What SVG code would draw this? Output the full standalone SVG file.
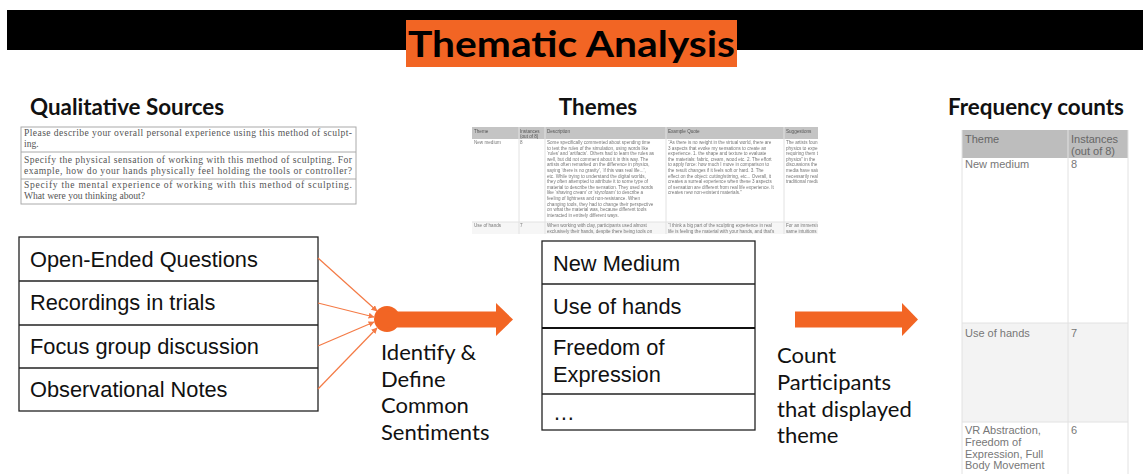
<svg xmlns="http://www.w3.org/2000/svg" width="1143" height="474" viewBox="0 0 1143 474">
  <defs>
    <style>
      .title { font-family: Lato, "Liberation Sans", sans-serif; font-weight: 700; fill: #000; }
      .head { font-family: Lato, "Liberation Sans", sans-serif; font-weight: 700; font-size: 22.4px; fill: #111; }
      .item { font-family: "Liberation Sans", Arial, sans-serif; font-size: 21.8px; fill: #111; }
      .step { font-family: Lato, "Liberation Sans", sans-serif; font-size: 22px; fill: #111; }
      .box { fill: #fff; stroke: #222; stroke-width: 1.3; }
      .div { stroke: #222; stroke-width: 1.3; }
      .q { font-family: "Liberation Serif", "Times New Roman", serif; font-size: 9.6px; fill: #555; }
      .qbox { fill: #fff; stroke: #aaa; stroke-width: 1; }
      .tt { font-family: "Liberation Sans", Arial, sans-serif; font-size: 4.6px; fill: #777; }
      .th { font-family: "Liberation Sans", Arial, sans-serif; font-size: 4.6px; fill: #555; }
      .ft { font-family: "Liberation Sans", Arial, sans-serif; font-size: 11px; fill: #777; }
      .fh { font-family: "Liberation Sans", Arial, sans-serif; font-size: 11px; fill: #666; }
      .grid { stroke: #e2e2e2; stroke-width: 1; }
      .thin { stroke: #f47a45; stroke-width: 1.2; fill: none; marker-end: url(#tip); }
      .orange { fill: #f26524; }
    </style>
    <marker id="tip" viewBox="0 0 10 10" refX="9" refY="5" markerWidth="6" markerHeight="6" orient="auto" markerUnits="userSpaceOnUse">
      <path d="M0,0 L10,5 L0,10 z" fill="#f47a45"/>
    </marker>
    <filter id="soft" x="-2%" y="-5%" width="104%" height="110%">
      <feGaussianBlur stdDeviation="0.45"/>
    </filter>
    <clipPath id="themeClip">
      <rect x="472" y="126" width="346" height="108"/>
    </clipPath>
    <clipPath id="freqClip">
      <rect x="955" y="125" width="180" height="349"/>
    </clipPath>
  </defs>

  <!-- title bar -->
  <g id="title">
    <rect x="7" y="10" width="1136" height="40" fill="#000"/>
    <rect x="406" y="20" width="331" height="47" class="orange"/>
    <text x="408" y="57" class="title" font-size="37" textLength="327" lengthAdjust="spacingAndGlyphs">Thematic Analysis</text>
  </g>

  <!-- section headings -->
  <g id="headings">
    <text x="30" y="115" class="head">Qualitative Sources</text>
    <text x="598" y="115" class="head" text-anchor="middle">Themes</text>
    <text x="1036" y="115" class="head" text-anchor="middle">Frequency counts</text>
  </g>

  <!-- survey questions -->
  <g id="questions">
    <rect x="21" y="127" width="335" height="77" class="qbox"/>
    <line x1="21" y1="152" x2="356" y2="152" stroke="#aaa"/>
    <line x1="21" y1="179" x2="356" y2="179" stroke="#aaa"/>
    <text x="24" y="136" class="q" textLength="328" lengthAdjust="spacing">Please describe your overall personal experience using this method of sculpt-</text>
    <text x="24" y="147" class="q">ing.</text>
    <text x="24" y="163" class="q" textLength="328" lengthAdjust="spacing">Specify the physical sensation of working with this method of sculpting. For</text>
    <text x="24" y="174" class="q" textLength="328" lengthAdjust="spacing">example, how do your hands physically feel holding the tools or controller?</text>
    <text x="24" y="188" class="q" textLength="328" lengthAdjust="spacing">Specify the mental experience of working with this method of sculpting.</text>
    <text x="24" y="199" class="q">What were you thinking about?</text>
  </g>

  <!-- themes table -->
  <g id="themes-table" filter="url(#soft)">
    <g clip-path="url(#themeClip)">
      <rect x="472" y="127" width="346" height="107" fill="#fff"/>
      <rect x="472" y="127" width="346" height="12" fill="#c4c4c4"/>
      <rect x="472" y="222" width="346" height="12" fill="#f6f6f6"/>
      <line x1="519" y1="127" x2="519" y2="234" class="grid"/>
      <line x1="545" y1="127" x2="545" y2="234" class="grid"/>
      <line x1="666" y1="127" x2="666" y2="234" class="grid"/>
      <line x1="784" y1="127" x2="784" y2="234" class="grid"/>
      <line x1="472" y1="222" x2="818" y2="222" class="grid"/>
      <text x="474" y="132.5" class="th">Theme</text>
      <text x="520" y="132.5" class="th">Instances</text>
      <text x="520" y="137.5" class="th">(out of 8)</text>
      <text x="547" y="132.5" class="th">Description</text>
      <text x="668" y="132.5" class="th">Example Quote</text>
      <text x="786" y="132.5" class="th">Suggestions</text>
      <text x="474" y="144" class="tt">New medium</text>
      <text x="520" y="144" class="tt">8</text>
      <text class="tt">
        <tspan x="547" y="144">Some specifically commented about spending time</tspan>
        <tspan x="547" y="149.6">to test the rules of the simulation, using words like</tspan>
        <tspan x="547" y="155.2">‘rules’ and ‘artifacts’. Others had to learn the rules as</tspan>
        <tspan x="547" y="160.8">well, but did not comment about it in this way. The</tspan>
        <tspan x="547" y="166.4">artists often remarked on the difference in physics,</tspan>
        <tspan x="547" y="172">saying ‘there is no gravity’, ‘if this was real life...’,</tspan>
        <tspan x="547" y="177.6">etc. While trying to understand the digital worlds,</tspan>
        <tspan x="547" y="183.2">they often attempted to attribute it to some type of</tspan>
        <tspan x="547" y="188.8">material to describe the sensation. They used words</tspan>
        <tspan x="547" y="194.4">like ‘shaving cream’ or ‘styrofoam’ to describe a</tspan>
        <tspan x="547" y="200">feeling of lightness and non-resistance. When</tspan>
        <tspan x="547" y="205.6">changing tools, they had to change their perspective</tspan>
        <tspan x="547" y="211.2">on what the material was, because different tools</tspan>
        <tspan x="547" y="216.8">interacted in entirely different ways.</tspan>
      </text>
      <text class="tt">
        <tspan x="668" y="144">“As there is no weight in the virtual world, there are</tspan>
        <tspan x="668" y="149.6">3 aspects that evoke my sensations to create an</tspan>
        <tspan x="668" y="155.2">experience. 1. the shape and texture to evaluate</tspan>
        <tspan x="668" y="160.8">the materials: fabric, cream, wood etc. 2. The effort</tspan>
        <tspan x="668" y="166.4">to apply force: how much I move in comparison to</tspan>
        <tspan x="668" y="172">the result changes if it feels soft or hard. 3. The</tspan>
        <tspan x="668" y="177.6">effect on the object: cutting/stirring, etc... Overall, it</tspan>
        <tspan x="668" y="183.2">creates a surreal experience when these 3 aspects</tspan>
        <tspan x="668" y="188.8">of sensation are different from real life experience. It</tspan>
        <tspan x="668" y="194.4">creates new non-existent materials.”</tspan>
      </text>
      <text class="tt">
        <tspan x="786" y="144">The artists found the</tspan>
        <tspan x="786" y="149.6">physics to expect</tspan>
        <tspan x="786" y="155.2">requiring them to</tspan>
        <tspan x="786" y="160.8">physics” in the</tspan>
        <tspan x="786" y="166.4">discussions the</tspan>
        <tspan x="786" y="172">media have said</tspan>
        <tspan x="786" y="177.6">necessarily real</tspan>
        <tspan x="786" y="183.2">traditional media</tspan>
      </text>
      <text x="474" y="227" class="tt">Use of hands</text>
      <text x="520" y="227" class="tt">7</text>
      <text class="tt">
        <tspan x="547" y="227">When working with clay, participants used almost</tspan>
        <tspan x="547" y="232.6">exclusively their hands, despite there being tools on</tspan>
      </text>
      <text class="tt">
        <tspan x="668" y="227">“I think a big part of the sculpting experience in real</tspan>
        <tspan x="668" y="232.6">life is feeling the material with your hands, and that’s</tspan>
      </text>
      <text class="tt">
        <tspan x="786" y="227">For an immersive</tspan>
        <tspan x="786" y="232.6">same intuitions</tspan>
      </text>
    </g>
  </g>

  <!-- frequency table -->
  <g id="frequency-table" clip-path="url(#freqClip)">
    <rect x="962" y="130" width="166" height="350" fill="#fff"/>
    <rect x="962" y="130" width="166" height="28" fill="#bdbdbd"/>
    <rect x="962" y="323" width="166" height="99" fill="#f3f3f3"/>
    <line x1="962" y1="130" x2="962" y2="480" class="grid"/>
    <line x1="1068" y1="130" x2="1068" y2="480" class="grid"/>
    <line x1="1128" y1="130" x2="1128" y2="480" class="grid"/>
    <line x1="962" y1="323" x2="1128" y2="323" class="grid"/>
    <line x1="962" y1="422" x2="1128" y2="422" class="grid"/>
    <text x="965" y="143" class="fh">Theme</text>
    <text x="1071" y="143" class="fh">Instances</text>
    <text x="1071" y="155" class="fh">(out of 8)</text>
    <text x="965" y="168" class="ft">New medium</text>
    <text x="1071" y="168" class="ft">8</text>
    <text x="965" y="337" class="ft">Use of hands</text>
    <text x="1071" y="337" class="ft">7</text>
    <text class="ft">
      <tspan x="965" y="434">VR Abstraction,</tspan>
      <tspan x="965" y="446">Freedom of</tspan>
      <tspan x="965" y="458">Expression, Full</tspan>
      <tspan x="965" y="469">Body Movement</tspan>
    </text>
    <text x="1071" y="434" class="ft">6</text>
  </g>

  <!-- data sources list -->
  <g id="sources">
    <rect x="19" y="237" width="299" height="174" class="box"/>
    <line x1="19" y1="281" x2="318" y2="281" class="div"/>
    <line x1="19" y1="325" x2="318" y2="325" class="div"/>
    <line x1="19" y1="368" x2="318" y2="368" class="div"/>
    <text x="30" y="267" class="item">Open-Ended Questions</text>
    <text x="30" y="310" class="item">Recordings in trials</text>
    <text x="30" y="354" class="item">Focus group discussion</text>
    <text x="30" y="397" class="item">Observational Notes</text>
  </g>

  <!-- connectors -->
  <g id="connectors">
    <line x1="318" y1="258" x2="377" y2="311" class="thin"/>
    <line x1="318" y1="303" x2="374" y2="317" class="thin"/>
    <line x1="318" y1="346" x2="374" y2="322" class="thin"/>
    <line x1="318" y1="389" x2="377" y2="328" class="thin"/>
    <circle cx="387" cy="319" r="13" class="orange"/>
    <rect x="387" y="311.5" width="110" height="16" class="orange"/>
    <polygon points="496,303 513,319.5 496,336" class="orange"/>
    <rect x="795" y="311.5" width="108" height="16" class="orange"/>
    <polygon points="902,303 918,319.5 902,336" class="orange"/>
  </g>

  <!-- step labels -->
  <g id="identify-label">
    <text class="step">
      <tspan x="381" y="360">Identify &amp;</tspan>
      <tspan x="381" y="387">Define</tspan>
      <tspan x="381" y="413">Common</tspan>
      <tspan x="381" y="440">Sentiments</tspan>
    </text>
  </g>
  <g id="count-label">
    <text class="step">
      <tspan x="777" y="363">Count</tspan>
      <tspan x="777" y="390">Participants</tspan>
      <tspan x="777" y="417">that displayed</tspan>
      <tspan x="777" y="443">theme</tspan>
    </text>
  </g>

  <!-- themes list -->
  <g id="themes-list">
    <rect x="542" y="241" width="213" height="189" class="box"/>
    <line x1="542" y1="284" x2="755" y2="284" class="div"/>
    <line x1="542" y1="328" x2="755" y2="328" stroke="#111" stroke-width="2.2"/>
    <line x1="542" y1="394" x2="755" y2="394" class="div"/>
    <text x="553" y="271" class="item">New Medium</text>
    <text x="553" y="314" class="item">Use of hands</text>
    <text x="553" y="355" class="item">Freedom of</text>
    <text x="553" y="382" class="item">Expression</text>
    <text x="553" y="420" class="item">…</text>
  </g>
</svg>
